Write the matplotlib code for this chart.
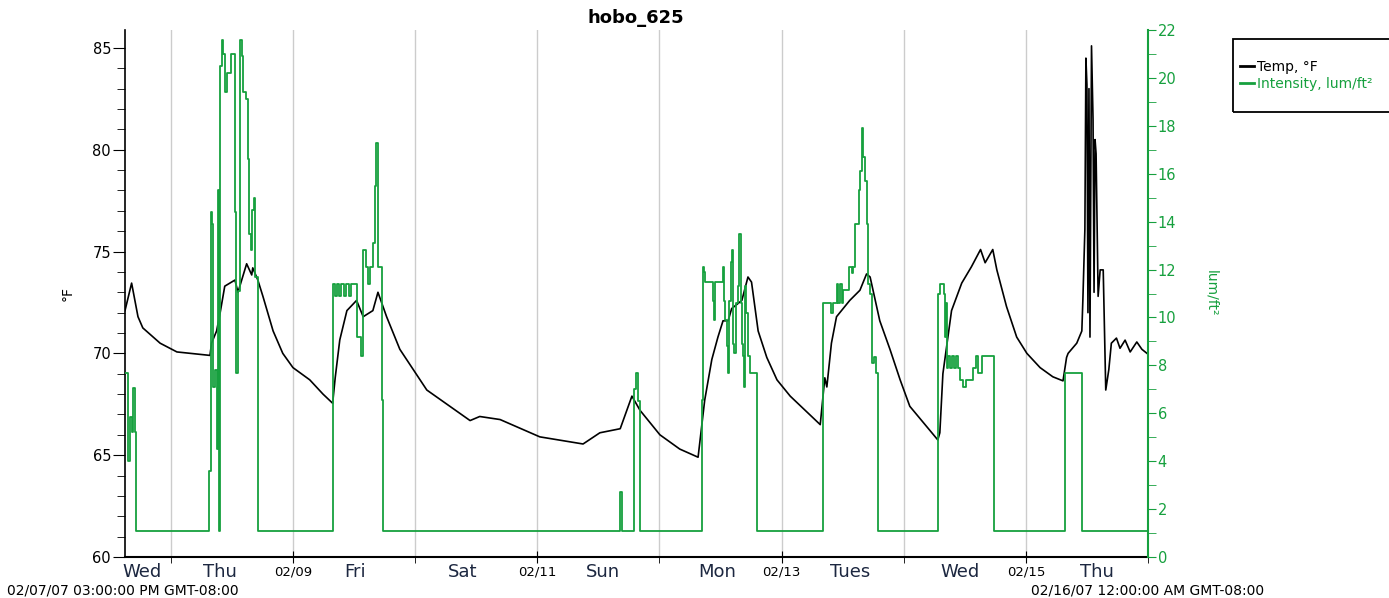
import matplotlib
matplotlib.use('Agg')
import matplotlib.pyplot as plt
import matplotlib.dates as mdates
from matplotlib.patches import Rectangle
from matplotlib.lines import Line2D
import pandas as pd

# logger run: hours since 02/07/07 3:00 PM
start = pd.Timestamp('2007-02-07 15:00')
end = pd.Timestamp('2007-02-16 00:00')

temp_hours = [0, 1.3, 2.55, 3.5, 6.9, 10.2, 16.7, 17.0, 18.0, 18.7, 19.6, 21.6, 22.2, 23.9,
              24.9, 25.1, 26.1, 27.1, 29.1, 31.0, 33.0, 36.3, 38.9, 40.8, 41.3, 42.2, 43.6,
              45.5, 46.8, 48.7, 49.7, 51.4, 54.0, 59.3, 67.8, 69.7, 73.7, 81.5, 90.0, 93.3,
              97.3, 99.6, 101.2, 105.1, 109.0, 112.6, 113.9, 115.3, 116.5, 117.5, 118.5,
              119.2, 121.2, 122.4, 123.1, 124.4, 126.1, 128.1, 130.7, 136.6, 137.5, 137.9,
              138.8, 139.8, 142.4, 144.4, 145.7, 146.4, 148.3, 150.3, 152.3, 154.2, 159.7,
              160.1, 160.7, 162.4, 164.4, 166.3, 168.1, 169.0, 170.5, 171.3, 173.2, 175.2,
              177.2, 179.8, 182.3, 184.3, 185.0, 185.3, 187.0, 188.0, 188.2, 188.6, 188.8,
              189.0, 189.2, 189.4, 189.6, 189.9, 190.2, 190.4, 190.6, 190.8, 191.2, 191.6,
              192.2, 192.7, 193.3, 193.8, 194.8, 195.5, 196.5, 197.5, 198.8, 199.8, 200.8]
temp_f = [72.1, 73.45, 71.8, 71.25, 70.5, 70.07, 69.9, 70.5, 71.1, 72.0, 73.3, 73.6, 73.0, 74.4,
          73.85, 74.2, 73.6, 72.8, 71.1, 70.0, 69.3, 68.7, 68.0, 67.55, 68.8, 70.66, 72.1,
          72.6, 71.8, 72.1, 73.0, 71.8, 70.2, 68.2, 66.7, 66.9, 66.75, 65.9, 65.55, 66.1,
          66.3, 67.9, 67.2, 66.0, 65.3, 64.9, 67.7, 69.7, 70.8, 71.6, 71.6,
          72.2, 72.6, 73.75, 73.5, 71.1, 69.8, 68.7, 67.9, 66.5, 68.8, 68.35,
          70.5, 71.8, 72.6, 73.1, 73.9, 73.75, 71.6, 70.2, 68.7, 67.4, 65.75,
          66.1, 69.0, 72.1, 73.45, 74.25, 75.1, 74.45, 75.1, 74.1, 72.3, 70.8,
          70.0, 69.3, 68.85, 68.65, 69.8, 70.0, 70.5, 71.1, 72.6, 76.1, 84.5,
          83.2, 72.0, 83.0, 70.8, 85.1, 81.5, 73.0, 80.5, 79.8, 72.8, 74.1,
          74.1, 68.2, 69.2, 70.5, 70.75, 70.25, 70.65, 70.07, 70.56, 70.2, 70.0]

lux_hours = [0, 0.6, 1.0, 1.3, 1.6, 1.9, 2.2, 16.5, 16.9, 17.1, 17.3, 17.7, 18.0, 18.3, 18.5,
             18.7, 19.1, 19.3, 19.6, 20.0, 20.9, 21.4, 21.6, 21.9, 22.2, 22.5, 23.0, 23.2,
             23.7, 24.2, 24.4, 24.7, 24.9, 25.3, 25.5, 26.2, 40.8, 40.9, 41.3, 41.7, 42.0,
             42.4, 43.0, 43.4, 44.0, 44.4, 45.6, 46.3, 46.8, 47.3, 47.8, 48.1, 48.8, 49.1,
             49.3, 49.8, 50.4, 50.6, 97.3, 97.7, 100.0, 100.4, 100.8, 101.2, 113.4, 113.5,
             113.7, 114.0, 115.6, 115.8, 115.9, 117.4, 117.7, 117.9, 118.2, 118.5, 118.7,
             119.0, 119.3, 119.5, 119.7, 120.0, 120.5, 120.7, 121.0, 121.2, 121.5, 121.7,
             121.8, 122.1, 122.4, 122.8, 124.2, 137.1, 138.8, 139.1, 139.8, 140.1, 140.5,
             140.8, 141.1, 142.3, 142.8, 143.0, 143.4, 144.3, 144.5, 144.8, 145.0, 145.4,
             145.7, 146.0, 146.4, 146.7, 147.2, 147.6, 148.0, 159.7, 160.2, 160.9, 161.1,
             161.3, 161.5, 161.7, 162.1, 162.5, 162.8, 163.2, 163.6, 164.0, 164.6, 165.2,
             166.6, 167.3, 167.6, 168.3, 170.7, 184.7, 188.0, 201.0]
lux = [7.7, 4.0, 5.85, 5.2, 7.05, 5.2, 1.08, 3.6, 14.4, 13.9, 7.1, 7.8, 4.5, 15.3, 1.08,
       20.5, 21.6, 21.0, 19.4, 20.2, 21.0, 21.0, 14.4, 7.7, 11.1, 21.6, 20.9, 19.4,
       19.1, 16.6, 13.5, 12.8, 14.5, 15.0, 11.7, 1.08, 6.3, 11.4, 10.9, 11.4, 10.9,
       11.4, 10.9, 11.4, 10.9, 11.4, 9.2, 8.4, 12.8, 12.1, 11.4, 12.1, 13.1, 15.5,
       17.3, 12.1, 6.55, 1.08, 2.7, 1.08, 7.0, 7.7, 6.5, 1.08, 6.55, 12.1,
       11.9, 11.5, 10.7, 9.9, 11.5, 12.1, 10.7, 9.9, 8.8, 7.7, 10.7,
       12.3, 12.8, 8.9, 8.5, 10.6, 11.3, 13.5, 10.6, 8.9, 8.4, 7.1,
       11.3, 10.2, 8.4, 7.7, 1.08, 10.6, 10.2, 10.6, 11.4, 10.6, 11.4,
       10.6, 11.15, 12.1, 11.85, 12.1, 13.9, 15.3, 16.1, 17.9, 16.7, 15.7,
       13.9, 11.4, 11.0, 8.1, 8.35, 7.7, 1.08, 11.0, 11.4, 11.0, 9.2,
       10.6, 7.9, 8.4, 7.9, 8.4, 7.9, 8.4, 7.9, 7.4, 7.1, 7.4,
       7.9, 8.4, 7.7, 8.4, 1.08, 7.7, 1.08, 1.08]

day_names = ['Wed', 'Thu', 'Fri', 'Sat', 'Sun', 'Mon', 'Tues', 'Wed', 'Thu']
day_name_hours = [3.3, 18.7, 45.2, 66.4, 93.9, 116.3, 142.4, 164.1, 191.0]

green = '#16a03e'

t_temp = start + pd.to_timedelta(temp_hours, unit='h')
t_lux = start + pd.to_timedelta(lux_hours, unit='h')

fig = plt.figure(figsize=(13.89, 5.98), dpi=100)
ax = fig.add_axes([125 / 1389, 41 / 598, 1023 / 1389, 527 / 598])
ax2 = ax.twinx()

ax.plot(t_temp, temp_f, color='black', lw=1.2)
ax2.plot(t_lux, lux, color=green, lw=1.3, drawstyle='steps-post')

ax.set_xlim(start, end)
ax.set_ylim(60, 85.88)
ax2.set_ylim(0, 22)

# x axis: midnight gridlines, labelled every other day
ax.xaxis.set_major_locator(mdates.DayLocator(bymonthday=[9, 11, 13, 15]))
ax.xaxis.set_major_formatter(mdates.DateFormatter('%m/%d'))
ax.xaxis.set_minor_locator(mdates.DayLocator())
ax.grid(True, which='minor', axis='x', color='#cccccc', lw=1)
ax.grid(True, which='major', axis='x', color='#cccccc', lw=1)
ax.tick_params(axis='x', which='major', length=8, direction='inout', labelsize=9.5, pad=2)
ax.tick_params(axis='x', which='minor', length=4, direction='out')

ax.set_yticks([60, 65, 70, 75, 80, 85])
ax.set_yticks(range(61, 86), minor=True)
ax.tick_params(axis='y', which='major', length=9, labelsize=10.5, pad=1)
ax.tick_params(axis='y', which='minor', length=6)

ax2.set_yticks(range(0, 23, 2))
ax2.set_yticks(range(1, 22, 2), minor=True)
ax2.tick_params(axis='y', which='both', colors=green, length=6, labelsize=10.5, pad=1)

for a in (ax, ax2):
    a.spines['top'].set_visible(False)
ax.spines['right'].set_visible(False)
ax2.spines['left'].set_visible(False)
ax2.spines['bottom'].set_visible(False)
ax2.spines['right'].set_color(green)
ax2.spines['right'].set_linewidth(1.5)
ax.spines['left'].set_linewidth(1.2)
ax.spines['bottom'].set_linewidth(1.5)

# day names under the axis
for name, h in zip(day_names, day_name_hours):
    x = mdates.date2num(start + pd.Timedelta(hours=h))
    ax.text(x, -0.028, name, transform=ax.get_xaxis_transform(), ha='center', va='center',
            fontsize=13, color='#1c2740')

ax.set_ylabel('°F', fontsize=10, labelpad=13)
ax2.set_ylabel('lum/ft²', fontsize=10, color=green, rotation=270, labelpad=30)

fig.text(636 / 1389, 1 - 18 / 598, 'hobo_625', ha='center', va='center', fontsize=13,
         fontweight='bold')
fig.text(123 / 1389, 1 - 590 / 598, '02/07/07 03:00:00 PM GMT-08:00', ha='center',
         va='center', fontsize=10)
fig.text(1148 / 1389, 1 - 590 / 598, '02/16/07 12:00:00 AM GMT-08:00', ha='center',
         va='center', fontsize=10)

# legend box running off the right edge
fig.patches.append(Rectangle((1233 / 1389, 1 - 112 / 598), 170 / 1389, 73 / 598,
                             transform=fig.transFigure, fill=False, edgecolor='black',
                             lw=1.3, clip_on=False))
handles = [Line2D([], [], color='black', lw=2), Line2D([], [], color=green, lw=2)]
leg = fig.legend(handles, ['Temp, °F', 'Intensity, lum/ft²'], loc='upper left',
                 bbox_to_anchor=(1240 / 1389, 1 - 60 / 598), frameon=False,
                 handlelength=1.0, handletextpad=0.25, fontsize=10, labelspacing=0.2,
                 borderpad=0, borderaxespad=0)
leg.get_texts()[1].set_color(green)

fig.savefig('out.png', dpi=100)
